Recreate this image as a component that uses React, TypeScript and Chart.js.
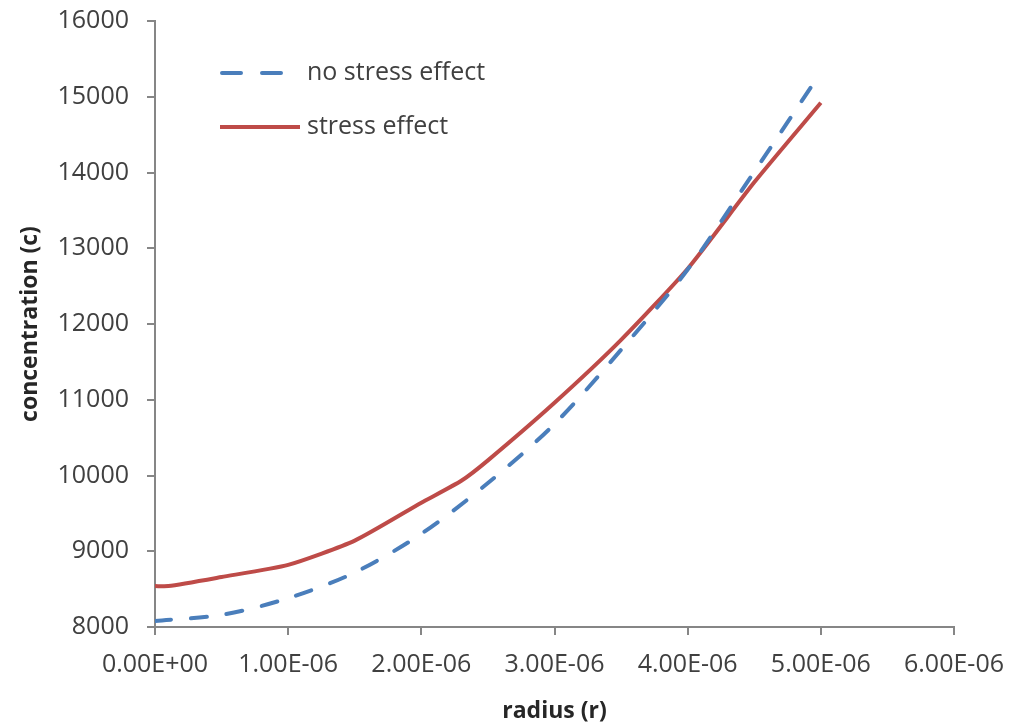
import React, { useEffect, useRef } from "react";
import { Chart, registerables } from "chart.js";

Chart.register(...registerables);

// radius values (m)
const radiusNoStress = [0, 0.5e-6, 1.0e-6, 1.5e-6, 2.0e-6, 2.5e-6, 3.0e-6, 3.5e-6, 4.0e-6, 4.5e-6, 5.0e-6];
const concNoStress = [8080, 8160, 8380, 8720, 9230, 9900, 10680, 11660, 12720, 14010, 15320];

const radiusStress = [0, 0.1e-6, 0.5e-6, 1.0e-6, 1.5e-6, 2.0e-6, 2.3e-6, 2.5e-6, 3.0e-6, 3.5e-6, 4.0e-6, 4.5e-6, 5.0e-6];
const concStress = [8540, 8540, 8660, 8820, 9140, 9640, 9930, 10200, 10960, 11790, 12730, 13870, 14920];

const seriesLabels = ["no stress effect", "stress effect"];
const xTitle = "radius (r)";
const yTitle = "concentration (c)";

const xMin = 0;
const xMax = 6e-6;
const xStep = 1e-6;
const yMin = 8000;
const yMax = 16000;
const yStep = 1000;

const BLUE = "#4A7EBB";
const RED = "#BE4B48";
const AXIS = "#868686";
const TEXT = "#404040";
const FONT = "'Open Sans', 'DejaVu Sans', sans-serif";

function fmtExp(v: number): string {
  if (Math.abs(v) < 1e-15) return "0.00E+00";
  const s = v.toExponential(2);
  const [m, e] = s.split("e");
  const n = parseInt(e, 10);
  const sign = n < 0 ? "-" : "+";
  const abs = Math.abs(n).toString().padStart(2, "0");
  return `${m}E${sign}${abs}`;
}

const legendPlugin = {
  id: "insideLegend",
  afterDatasetsDraw(chart: any) {
    const ctx = chart.ctx;
    const ds = chart.data.datasets;
    const x0 = 220;
    const rows = [73, 127];
    ctx.save();
    ctx.font = `25px ${FONT}`;
    ctx.textBaseline = "middle";
    ctx.fillStyle = TEXT;
    ds.forEach((d: any, i: number) => {
      const y = rows[i];
      ctx.beginPath();
      ctx.strokeStyle = d.borderColor;
      ctx.lineWidth = 4;
      ctx.lineCap = i === 0 ? "round" : "butt";
      if (i === 0) {
        ctx.setLineDash([19, 21]);
        ctx.moveTo(x0 + 2, y);
        ctx.lineTo(x0 + 64, y);
      } else {
        ctx.setLineDash([]);
        ctx.moveTo(x0, y);
        ctx.lineTo(x0 + 80, y);
      }
      ctx.stroke();
      ctx.setLineDash([]);
      ctx.fillText(d.label, 307, y);
    });
    ctx.restore();
  },
};

export default function App() {
  const ref = useRef<HTMLCanvasElement | null>(null);
  useEffect(() => {
    if (!ref.current) return;
    const chart = new Chart(ref.current, {
      type: "scatter",
      data: {
        datasets: [
          {
            label: seriesLabels[0],
            data: radiusNoStress.map((x, i) => ({ x, y: concNoStress[i] })),
            showLine: true,
            borderColor: BLUE,
            backgroundColor: BLUE,
            borderWidth: 4,
            borderDash: [16, 20],
            borderCapStyle: "round",
            pointRadius: 0,
            tension: 0.3,
          },
          {
            label: seriesLabels[1],
            data: radiusStress.map((x, i) => ({ x, y: concStress[i] })),
            showLine: true,
            borderColor: RED,
            backgroundColor: RED,
            borderWidth: 4,
            pointRadius: 0,
            tension: 0.2,
          },
        ],
      },
      options: {
        animation: false,
        responsive: true,
        maintainAspectRatio: false,
        layout: { padding: { top: 21, right: 59, left: 0, bottom: 0 } },
        plugins: {
          legend: { display: false },
          tooltip: { enabled: false },
        },
        scales: {
          x: {
            type: "linear",
            min: xMin,
            max: xMax,
            afterFit: (s: any) => {
              s.height = 99;
              s.paddingLeft = 0;
              s.paddingRight = 0;
            },
            ticks: {
              stepSize: xStep,
              color: TEXT,
              font: { family: FONT, size: 25 },
              padding: 15,
              maxRotation: 0,
              autoSkip: false,
              callback: (v: any) => fmtExp(Number(v)),
            },
            grid: {
              drawOnChartArea: false,
              drawTicks: true,
              tickLength: 8,
              tickColor: AXIS,
              lineWidth: 2,
            },
            border: { color: AXIS, width: 2 },
            title: {
              display: true,
              text: xTitle,
              color: "#262626",
              font: { family: FONT, size: 23, weight: "bold" },
              padding: { top: 0, bottom: 1 },
            },
          },
          y: {
            type: "linear",
            min: yMin,
            max: yMax,
            afterFit: (s: any) => {
              s.width = 155;
              s.paddingTop = 0;
              s.paddingBottom = 0;
            },
            ticks: {
              stepSize: yStep,
              color: TEXT,
              font: { family: FONT, size: 25 },
              padding: 18,
              callback: (v: any) => String(v),
            },
            grid: {
              drawOnChartArea: false,
              drawTicks: true,
              tickLength: 8,
              tickColor: AXIS,
              lineWidth: 2,
            },
            border: { color: AXIS, width: 2 },
            title: {
              display: true,
              text: yTitle,
              color: "#262626",
              font: { family: FONT, size: 23, weight: "bold" },
              padding: { top: 17, bottom: 0 },
            },
          },
        },
      },
      plugins: [legendPlugin],
    } as any);
    return () => chart.destroy();
  }, []);
  return (
    <div style={{ position: "fixed", left: 0, top: 0, width: 1013, height: 726, background: "#fff" }}>
      <canvas ref={ref} />
    </div>
  );
}
